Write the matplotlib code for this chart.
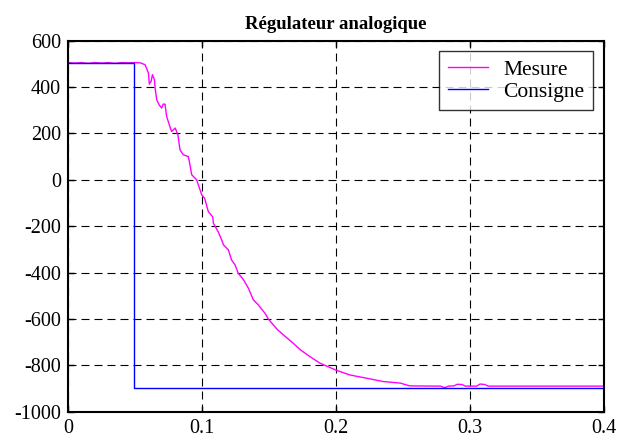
import matplotlib
matplotlib.use("Agg")
import matplotlib.pyplot as plt

# Measured response (time in s, value)
t_mesure = [0.0, 0.005, 0.010, 0.015, 0.020, 0.025, 0.030, 0.035, 0.040, 0.045,
            0.050, 0.054, 0.0575, 0.060, 0.0607, 0.0620, 0.0630, 0.0645, 0.0650,
            0.0662, 0.0680, 0.0699, 0.0710, 0.0724, 0.0736, 0.0760, 0.0773,
            0.0800, 0.0820, 0.0836, 0.0860, 0.0898, 0.0910, 0.0923, 0.0948,
            0.0960, 0.0998, 0.1020, 0.1047, 0.1080, 0.1085, 0.1120, 0.1147,
            0.1160, 0.1197, 0.1220, 0.1246, 0.1270, 0.1310, 0.1346, 0.1383,
            0.1420, 0.1470, 0.1495, 0.1560, 0.1607, 0.1680, 0.1735, 0.1806,
            0.1880, 0.2000, 0.2104, 0.2230, 0.2350, 0.2480, 0.2550, 0.2780,
            0.2810, 0.2840, 0.2880, 0.2905, 0.2940, 0.2965, 0.3050, 0.3075,
            0.3110, 0.3135, 0.4000]
v_mesure = [505, 503, 505, 502, 505, 503, 505, 502, 505, 504,
            505, 504, 496, 460, 412, 424, 453, 431, 395,
            345, 323, 309, 326, 326, 273, 230, 208,
            223, 194, 129, 108, 100, 65, 22, 7,
            0, -65, -80, -137, -160, -187, -223, -259,
            -280, -302, -345, -366, -402, -431, -467, -517,
            -539, -575, -600, -644, -668, -704, -733, -762,
            -790, -820, -841, -855, -869, -876, -888, -889,
            -896, -889, -888, -881, -882, -889, -889, -880,
            -882, -889, -889]

# Set-point step
t_consigne = [0.0, 0.049, 0.049, 0.4]
v_consigne = [505, 505, -895, -895]

x_ticks = [0, 0.1, 0.2, 0.3, 0.4]
x_labels = ["0", "0.1", "0.2", "0.3", "0.4"]
y_ticks = [-1000, -800, -600, -400, -200, 0, 200, 400, 600]

plt.rcParams["font.family"] = ["Liberation Serif", "DejaVu Serif"]
plt.rcParams["axes.unicode_minus"] = False

fig = plt.figure(figsize=(6.2, 4.41), dpi=100)
ax = fig.add_axes([0.1097, 0.066, 0.8645, 0.842])

ax.plot(t_mesure, v_mesure, color="#ff00ff", lw=1.0, label="Mesure")
ax.plot(t_consigne, v_consigne, color="#0000ff", lw=1.0, label="Consigne")

ax.set_xlim(0, 0.4)
ax.set_ylim(-1000, 600)
ax.set_xticks(x_ticks)
ax.set_xticklabels(x_labels)
ax.set_yticks(y_ticks)

ax.grid(True, color="black", lw=0.8, linestyle=(0, (7.2, 4.5)))
ax.tick_params(direction="in", length=4, width=1, top=True, right=True,
               labelsize=14.5, pad=5, colors="black")
for sp in ax.spines.values():
    sp.set_linewidth(1.5)

ax.set_title("Régulateur analogique", fontsize=13.5, fontweight="bold", pad=8)

leg = ax.legend(loc="upper right", fontsize=15.5, frameon=True, fancybox=False,
                edgecolor="black", handlelength=1.9, borderaxespad=0.5,
                labelspacing=0.08, handletextpad=0.7, borderpad=0.4)
leg.get_frame().set_linewidth(1.0)

fig.savefig("out.png", dpi=100)
